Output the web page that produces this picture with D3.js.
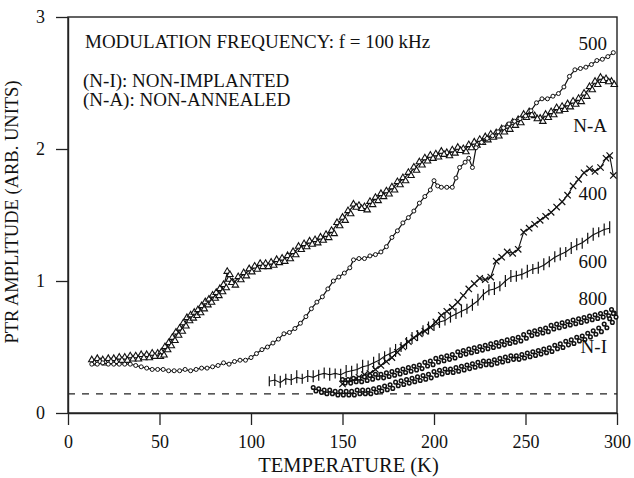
<!DOCTYPE html>
<html>
<head>
<meta charset="utf-8">
<script src="https://cdn.jsdelivr.net/npm/d3@7"></script>
<style>
  body { margin: 0; background: #fff; }
  svg text { font-family: "Liberation Serif", "DejaVu Serif", serif; fill: #111; }
</style>
</head>
<body>
<div id="chart"></div>
<script>
var figw = 634
var figh = 478

// temperature (K), PTR amplitude (arb. units)
var seriesNA = [[13,0.39],[16,0.40],[19,0.39],[22,0.40],[25,0.40],[28,0.41],[31,0.41],[34,0.42],[37,0.42],[40,0.43],
  [43,0.43],[46,0.44],[49,0.44],[51,0.45],[53,0.49],[55,0.52],[57,0.56],[59,0.60],[61,0.63],[63,0.67],[65,0.71],
  [67,0.73],[69,0.75],[71,0.77],[73,0.80],[75,0.83],[77,0.85],[79,0.88],[81,0.90],[83,0.93],[85,0.96],[87,1.06],
  [88,1.00],[90,0.98],[93,1.02],[96,1.05],[99,1.08],[102,1.10],[105,1.12],[108,1.12],[111,1.13],[114,1.15],
  [117,1.16],[120,1.18],[123,1.21],[126,1.25],[129,1.27],[132,1.29],[135,1.30],[138,1.32],[141,1.34],[144,1.37],
  [147,1.43],[150,1.47],[153,1.52],[156,1.57],[159,1.56],[162,1.55],[165,1.59],[168,1.62],[171,1.65],[174,1.67],
  [177,1.70],[180,1.74],[183,1.77],[186,1.81],[189,1.85],[192,1.89],[195,1.92],[198,1.94],[201,1.95],[204,1.97],
  [207,1.96],[210,1.98],[213,2.00],[216,1.99],[219,2.02],[222,2.04],[225,2.06],[228,2.08],[231,2.10],[234,2.11],
  [237,2.14],[240,2.16],[243,2.19],[246,2.21],[249,2.25],[252,2.27],[255,2.24],[258,2.22],[261,2.25],[264,2.27],
  [267,2.30],[270,2.31],[273,2.33],[276,2.35],[279,2.37],[282,2.41],[285,2.46],[288,2.50],[291,2.53],[294,2.52],[297,2.50]]

var series500 = [[13,0.37],[16,0.37],[19,0.38],[22,0.37],[25,0.37],[28,0.37],[31,0.37],[34,0.37],[37,0.36],[40,0.35],
  [43,0.34],[46,0.33],[49,0.33],[52,0.33],[55,0.32],[58,0.32],[61,0.32],[64,0.33],[67,0.32],[70,0.33],[73,0.34],
  [76,0.34],[79,0.35],[82,0.36],[85,0.38],[88,0.37],[91,0.39],[94,0.40],[97,0.40],[100,0.42],[103,0.45],[106,0.48],
  [109,0.50],[112,0.53],[115,0.56],[118,0.60],[121,0.61],[124,0.64],[127,0.68],[130,0.73],[133,0.79],[136,0.84],
  [139,0.88],[142,0.94],[145,1.00],[148,1.03],[151,1.06],[154,1.10],[156,1.16],[159,1.17],[162,1.17],[165,1.19],
  [168,1.20],[171,1.22],[174,1.26],[177,1.33],[180,1.38],[183,1.44],[186,1.48],[189,1.53],[192,1.59],[195,1.64],
  [198,1.69],[200,1.76],[202,1.72],[204,1.71],[207,1.71],[210,1.71],[212,1.78],[214,1.86],[217,1.90],[219,1.93],
  [221,1.86],[223,2.01],[226,2.05],[229,2.08],[232,2.10],[235,2.13],[238,2.16],[241,2.19],[244,2.21],[247,2.23],
  [250,2.25],[253,2.29],[256,2.35],[259,2.38],[262,2.38],[265,2.40],[268,2.42],[271,2.47],[274,2.55],[277,2.60],
  [280,2.61],[283,2.62],[286,2.64],[289,2.67],[292,2.68],[295,2.70],[298,2.73]]

var series400 = [[150,0.22],[153,0.24],[156,0.25],[159,0.27],[162,0.29],[165,0.30],[168,0.33],[171,0.36],[174,0.39],
  [177,0.42],[180,0.46],[183,0.50],[186,0.54],[189,0.57],[192,0.60],[195,0.62],[198,0.65],[201,0.69],[204,0.74],
  [207,0.77],[210,0.80],[213,0.84],[216,0.89],[219,0.94],[222,0.98],[225,1.02],[228,1.01],[231,1.03],[234,1.15],
  [237,1.18],[240,1.22],[243,1.21],[246,1.24],[249,1.37],[252,1.40],[255,1.43],[258,1.46],[261,1.49],[264,1.52],
  [267,1.56],[270,1.60],[273,1.65],[276,1.72],[279,1.77],[282,1.82],[285,1.85],[288,1.83],[291,1.86],[294,1.93],
  [296,1.95],[298,1.80]]

var series600 = [[110,0.24],[113,0.25],[116,0.23],[119,0.26],[122,0.25],[125,0.27],[128,0.26],[131,0.28],[134,0.27],
  [137,0.29],[140,0.30],[143,0.29],[146,0.30],[149,0.29],[152,0.31],[155,0.32],[158,0.33],[161,0.35],[164,0.36],
  [167,0.38],[170,0.40],[173,0.43],[176,0.45],[179,0.47],[182,0.50],[185,0.53],[188,0.56],[191,0.59],[194,0.62],
  [197,0.64],[200,0.66],[203,0.69],[206,0.70],[209,0.73],[212,0.75],[215,0.77],[218,0.79],[221,0.82],[224,0.85],
  [227,0.90],[230,0.93],[233,0.94],[236,0.96],[239,1.00],[242,1.03],[245,1.04],[248,1.05],[251,1.07],[254,1.09],
  [257,1.10],[260,1.12],[263,1.15],[266,1.18],[269,1.20],[272,1.22],[275,1.25],[278,1.27],[281,1.29],[284,1.32],
  [287,1.35],[290,1.37],[293,1.39],[296,1.40]]

var series800 = [[150,0.24],[153,0.24],[156,0.25],[159,0.25],[162,0.26],[165,0.27],[168,0.28],[171,0.28],[174,0.29],
  [177,0.30],[180,0.31],[183,0.32],[186,0.33],[189,0.34],[192,0.35],[195,0.37],[198,0.38],[201,0.40],[204,0.41],
  [207,0.42],[210,0.43],[213,0.45],[216,0.46],[219,0.47],[222,0.48],[225,0.49],[228,0.50],[231,0.51],[234,0.52],
  [237,0.53],[240,0.54],[243,0.55],[246,0.56],[249,0.58],[252,0.60],[255,0.61],[258,0.62],[261,0.63],[264,0.65],
  [267,0.66],[270,0.67],[273,0.68],[276,0.69],[279,0.70],[282,0.71],[285,0.72],[288,0.73],[291,0.74],[294,0.75],[297,0.77]]

var seriesNI = [[134,0.18],[137,0.17],[140,0.16],[143,0.16],[146,0.15],[149,0.15],[152,0.15],[155,0.15],[158,0.16],
  [161,0.16],[164,0.16],[167,0.17],[170,0.18],[173,0.19],[176,0.20],[179,0.22],[182,0.23],[185,0.24],[188,0.25],
  [191,0.26],[194,0.27],[197,0.28],[200,0.30],[203,0.31],[206,0.32],[209,0.32],[212,0.33],[215,0.34],[218,0.35],
  [221,0.36],[224,0.37],[227,0.38],[230,0.38],[233,0.39],[236,0.40],[239,0.41],[242,0.42],[245,0.42],[248,0.43],
  [251,0.44],[254,0.45],[257,0.46],[260,0.47],[263,0.48],[266,0.50],[269,0.51],[272,0.53],[275,0.54],[278,0.56],
  [281,0.57],[284,0.59],[287,0.61],[290,0.63],[293,0.66],[296,0.70],[298,0.74]]

var baseline = 0.145
var xTicks = [0, 50, 100, 150, 200, 250, 300]
var yTicks = [0, 1, 2, 3]

var notes = ["MODULATION FREQUENCY: f = 100 kHz", "(N-I):  NON-IMPLANTED", "(N-A):  NON-ANNEALED"]
var curveLabels = [["500", 2.75], ["N-A", 2.13], ["400", 1.61], ["600", 1.10], ["800", 0.82], ["N-I", 0.455]]

var margin = {top: 17, right: 17, bottom: 65, left: 68},
    width = figw - margin.left - margin.right,
    height = figh - margin.top - margin.bottom;

var svg = d3.select("#chart")
  .append("svg")
    .attr("width", figw)
    .attr("height", figh)
  .append("g")
    .attr("transform", "translate(" + margin.left + "," + margin.top + ")");

var x = d3.scaleLinear().domain([0, 300]).range([0, width])
var y = d3.scaleLinear().domain([0, 3]).range([height, 0])

// frame
svg.append("rect")
  .attr("width", width).attr("height", height)
  .attr("fill", "none").attr("stroke", "#222").attr("stroke-width", 1.4)

var xa = svg.append("g")
  .attr("transform", "translate(0," + height + ")")
  .call(d3.axisBottom(x).tickValues(xTicks).tickSizeInner(12).tickSizeOuter(0).tickPadding(10))
var ya = svg.append("g")
  .call(d3.axisLeft(y).tickValues(yTicks).tickFormat(d3.format("d")).tickSizeInner(12).tickSizeOuter(0).tickPadding(11))
;[xa, ya].forEach(function(a) {
  a.select(".domain").attr("stroke", "#222").attr("stroke-width", 1.4)
  a.selectAll(".tick line").attr("stroke", "#222").attr("stroke-width", 1.3)
  a.selectAll("text").attr("font-size", 18).attr("font-family", "Liberation Serif").attr("fill", "#111")
})

svg.append("text")
  .attr("x", x(150) + 6).attr("y", height + 59)
  .attr("text-anchor", "middle").attr("font-size", 20.5)
  .text("TEMPERATURE (K)")
svg.append("text")
  .attr("transform", "translate(" + (-50) + "," + (y(1.5) - 3) + ") rotate(-90)")
  .attr("text-anchor", "middle").attr("font-size", 18.5)
  .text("PTR AMPLITUDE (ARB. UNITS)")

// dashed reference level
svg.append("line")
  .attr("x1", x(0)).attr("x2", x(300))
  .attr("y1", y(baseline)).attr("y2", y(baseline))
  .attr("stroke", "#222").attr("stroke-width", 1.3).attr("stroke-dasharray", "7,7")

var line = d3.line().x(function(d) { return x(d[0]) }).y(function(d) { return y(d[1]) })

function curve(data, w) {
  svg.append("path").datum(data)
    .attr("d", line).attr("fill", "none").attr("stroke", "#111").attr("stroke-width", w)
}

// N-A : open triangles
curve(seriesNA, 1.2)
var tri = d3.symbol().type(d3.symbolTriangle).size(18)
;[-1.6, 1.6].forEach(function(off, k) {
  svg.append("g").selectAll("path").data(seriesNA).enter().append("path")
    .attr("d", tri)
    .attr("transform", function(d) { return "translate(" + (x(d[0]) + k * 2.7) + "," + (y(d[1]) + off) + ")" })
    .attr("fill", "#fff").attr("stroke", "#111").attr("stroke-width", 1.1)
})

// 500 : small open circles on a line
curve(series500, 1.2)
svg.append("g").selectAll("circle").data(series500).enter().append("circle")
  .attr("cx", function(d) { return x(d[0]) }).attr("cy", function(d) { return y(d[1]) })
  .attr("r", 2).attr("fill", "#fff").attr("stroke", "#111").attr("stroke-width", 1)

// 600 : vertical bars
curve(series600, 1.1)
svg.append("g").selectAll("line").data(series600).enter().append("line")
  .attr("x1", function(d) { return x(d[0]) }).attr("x2", function(d) { return x(d[0]) })
  .attr("y1", function(d, i) { return y(d[1]) - 5 - (i % 3) }).attr("y2", function(d, i) { return y(d[1]) + 5 + (i % 2) })
  .attr("stroke", "#111").attr("stroke-width", 1.2)

// 400 : crosses
curve(series400, 1.1)
var cross = d3.symbol().type(d3.symbolX).size(28)
svg.append("g").selectAll("path").data(series400).enter().append("path")
  .attr("d", cross)
  .attr("transform", function(d) { return "translate(" + x(d[0]) + "," + y(d[1]) + ")" })
  .attr("fill", "none").attr("stroke", "#111").attr("stroke-width", 1.2)

// 800 and N-I : dense circle bands
function band(data) {
  [-1.8, 1.8].forEach(function(off, k) {
    svg.append("g").selectAll("circle").data(data).enter().append("circle")
      .attr("cx", function(d) { return x(d[0]) + k * 2.7 }).attr("cy", function(d) { return y(d[1]) + off })
      .attr("r", 1.8).attr("fill", "#fff").attr("stroke", "#111").attr("stroke-width", 1.5)
  })
}
band(series800)
band(seriesNI)

// annotations
svg.append("text").attr("x", 17).attr("y", 31).attr("font-size", 19).text(notes[0])
svg.append("text").attr("x", 15).attr("y", 70).attr("font-size", 19).text(notes[1])
svg.append("text").attr("x", 15).attr("y", 89).attr("font-size", 19).text(notes[2])

svg.append("g").selectAll("text").data(curveLabels).enter().append("text")
  .attr("x", width - 10).attr("y", function(d) { return y(d[1]) })
  .attr("text-anchor", "end").attr("font-size", 19)
  .text(function(d) { return d[0] })
</script>
</body>
</html>
